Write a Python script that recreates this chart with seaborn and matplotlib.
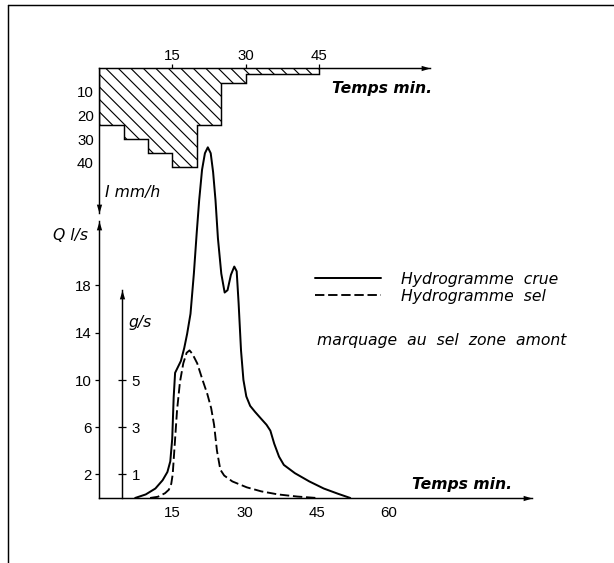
import matplotlib.pyplot as plt
import numpy as np
import seaborn as sns
from matplotlib.lines import Line2D

# Rainfall (hyetograph), mm/h per time block (min)
rain_edges = [0, 5, 10, 15, 20, 25, 30, 45]
rain_int = [24, 30, 36, 42, 24, 6.5, 2.5]

# Flood hydrograph (l/s)
crue_t = [7.3, 9.5, 11.5, 13.0, 14.0, 14.6, 15.0, 15.3, 15.6, 16.2, 16.8, 17.5,
          18.1, 18.8, 19.5, 20.1, 20.6, 21.2, 21.8, 22.4, 23.0, 23.5, 24.0, 24.5,
          25.2, 25.9, 26.5, 27.2, 27.9, 28.4, 28.8, 29.3, 29.8, 30.4, 31.2, 32.2,
          33.5, 34.6, 35.4, 36.2, 37.2, 38.2, 40.5, 43.5, 46.5, 49.5, 52.0]
crue_q = [0, 0.3, 0.8, 1.5, 2.2, 3.1, 5.0, 8.5, 10.6, 11.1, 11.6, 12.7,
          13.9, 15.6, 19.0, 22.5, 25.2, 27.8, 29.2, 29.7, 29.2, 27.6, 25.2, 22.0,
          19.0, 17.4, 17.6, 18.9, 19.6, 19.2, 16.5, 12.5, 10.0, 8.6, 7.8, 7.3,
          6.7, 6.2, 5.7, 4.6, 3.5, 2.8, 2.1, 1.4, 0.8, 0.35, 0]

# Salt hydrograph (g/s)
sel_t = [10.4, 12.0, 13.5, 14.3, 14.8, 15.1, 15.5, 16.0, 16.6, 17.3, 18.0, 18.6,
         19.2, 20.2, 21.3, 22.3, 23.1, 23.7, 24.3, 25.0, 25.8, 27.5, 30.5, 33.5,
         37.0, 41.0, 45.0]
sel_g = [0, 0.05, 0.2, 0.35, 0.6, 1.0, 2.2, 3.7, 4.9, 5.7, 6.15, 6.25,
         6.1, 5.7, 5.0, 4.4, 3.8, 3.1, 2.0, 1.2, 0.95, 0.7, 0.45, 0.28,
         0.15, 0.06, 0]

t_ticks = [15, 30, 45, 60]
t_ticks_top = [15, 30, 45]
q_ticks = [2, 6, 10, 14, 18]
g_ticks = [1, 3, 5]
i_ticks = [10, 20, 30, 40]

W, H, DPI = 614, 563, 75

sns.set_style("white", {"axes.edgecolor": "k", "text.color": "k",
                        "xtick.color": "k", "ytick.color": "k"})
plt.rcParams['font.family'] = ['DejaVu Sans']
plt.rcParams['hatch.linewidth'] = 1.1


def box(x0, y0, x1, y1):
    # pixel box (top-left origin) -> figure fraction rect
    return [x0 / W, 1 - y1 / H, (x1 - x0) / W, (y1 - y0) / H]


def arrow_head(ax, x, y, d, transform):
    verts = {"r": [(-1, 0.3), (0, 0), (-1, -0.3), (-1, 0.3)],
             "u": [(-0.3, -1), (0, 0), (0.3, -1), (-0.3, -1)],
             "d": [(-0.3, 1), (0, 0), (0.3, 1), (-0.3, 1)]}[d]
    ax.plot(x, y, marker=verts, color="k", ms=17, mew=0,
            transform=transform, clip_on=False)


fig = plt.figure(figsize=((W + 0.3) / DPI, (H + 0.3) / DPI), dpi=DPI)

lab_font = dict(labelfontfamily="Liberation Sans", labelsize=14.4)
txt = dict(style="italic", size=15, va="center")

# ---- hydrograph (Q l/s) ----
axQ = fig.add_axes(box(99, 221, 532, 498))
axQ.patch.set_visible(False)
axQ.set_xlim(-1 / 4.82, 433 / 4.82)
axQ.set_ylim(0, 277 / 11.8)
sns.lineplot(x=crue_t, y=crue_q, ax=axQ, color="k", lw=1.9,
             sort=False, estimator=None, clip_on=False)
axQ.set_xticks(t_ticks)
axQ.set_yticks(q_ticks)
axQ.tick_params(direction="out", length=4, width=1.2, pad=3, **lab_font)
for s in ["top", "right"]:
    axQ.spines[s].set_visible(False)
for s in ["left", "bottom"]:
    axQ.spines[s].set_linewidth(1.4)
arrow_head(axQ, 1, 0, "r", axQ.transAxes)
arrow_head(axQ, 0, 1, "u", axQ.transAxes)

# ---- salt (g/s) ----
axS = axQ.twinx()
axS.patch.set_visible(False)
axS.set_ylim(0, 277 / 11.8 / 2)
sns.lineplot(x=sel_t, y=sel_g, ax=axS, color="k", lw=1.8,
             ls=(0, (5, 2)), sort=False, estimator=None, clip_on=False)
for s in ["top", "left", "bottom"]:
    axS.spines[s].set_visible(False)
axS.spines["right"].set_position(("data", 4.6))
axS.spines["right"].set_bounds(0, 8.8)
axS.spines["right"].set_linewidth(1.4)
axS.set_yticks(g_ticks)
axS.set_ylabel("")
axS.tick_params(axis="y", direction="inout", length=8, width=1.2, pad=5, **lab_font)
arrow_head(axS, 4.6, 8.8, "u", axS.transData)

# ---- hyetograph (I mm/h) ----
axI = fig.add_axes(box(99, 68, 430, 213))
axI.patch.set_visible(False)
axI.set_xlim(0, 331 / 4.89)
axI.set_ylim(145 / 2.37, 0)
axI.bar(rain_edges[:-1], rain_int, width=np.diff(rain_edges), align="edge",
        fill=False, hatch="\\\\", lw=0, edgecolor="k")
axI.stairs(rain_int, rain_edges, color="k", lw=1.4, baseline=0)
axI.xaxis.tick_top()
axI.set_xticks(t_ticks_top)
axI.set_yticks(i_ticks)
axI.tick_params(direction="out", length=4, width=1.2, pad=1, **lab_font)
for s in ["bottom", "right"]:
    axI.spines[s].set_visible(False)
for s in ["left", "top"]:
    axI.spines[s].set_linewidth(1.4)
arrow_head(axI, 1, 1, "r", axI.transAxes)
arrow_head(axI, 0, 0, "d", axI.transAxes)

# ---- legend & labels ----
leg = axS.legend([axQ.lines[0], axS.lines[0]],
                 ["Hydrogramme  crue", "Hydrogramme  sel"],
                 loc="upper left", bbox_to_anchor=(315 / W, 1 - 272 / H),
                 bbox_transform=fig.transFigure, frameon=False,
                 handlelength=4.2, handletextpad=1.3, labelspacing=0.1,
                 borderpad=0, borderaxespad=0,
                 prop=dict(style="italic", size=15))

fig.text(317 / W, 1 - 340 / H, "marquage  au  sel  zone  amont", **txt)
fig.text(412 / W, 1 - 484 / H, "Temps min.", weight="bold", **txt)
fig.text(332 / W, 1 - 88 / H, "Temps min.", weight="bold", **txt)
fig.text(105 / W, 1 - 192 / H, "I mm/h", **txt)
fig.text(88 / W, 1 - 235 / H, "Q l/s", ha="right", **txt)
fig.text(128 / W, 1 - 322 / H, "g/s", **txt)

# page frame (left and top)
fig.add_artist(Line2D([8 / W, 8 / W], [0, 1 - 5 / H], color="k", lw=1.4))
fig.add_artist(Line2D([8 / W, 1], [1 - 5 / H, 1 - 5 / H], color="k", lw=1.4))

fig.savefig("out.png", dpi=DPI)
